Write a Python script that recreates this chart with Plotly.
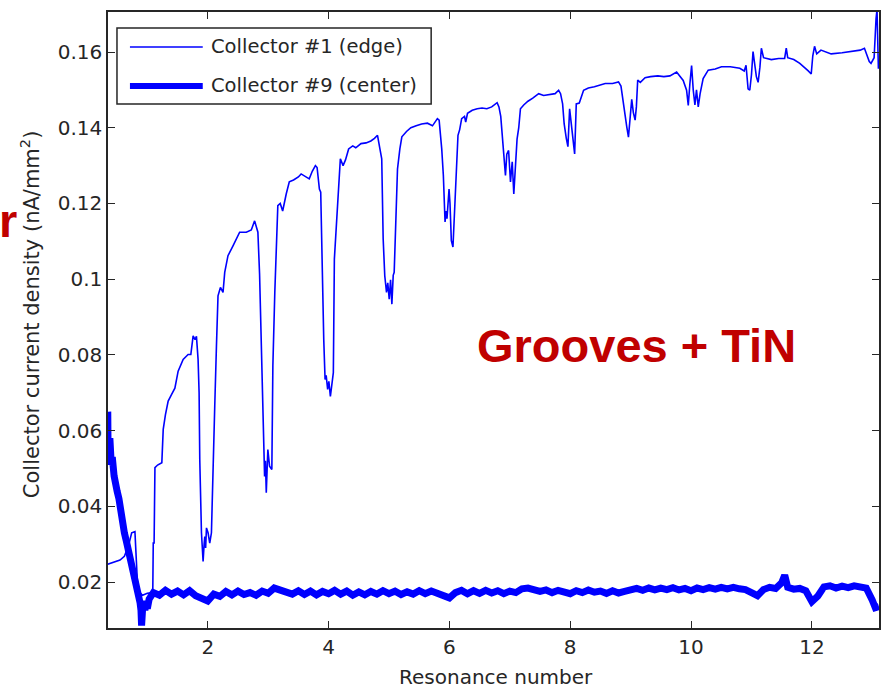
import plotly.graph_objects as go

# Collector #1 (edge): resonance number vs current density (nA/mm^2)
edge_x = [
    0.345, 0.40, 0.46, 0.548, 0.62, 0.685, 0.741, 0.795, 0.812, 0.834, 0.86, 0.92, 1.00, 1.09,
    1.098, 1.112, 1.126, 1.17, 1.24, 1.263, 1.30, 1.345, 1.40, 1.456, 1.510, 1.55, 1.593, 1.675,
    1.72, 1.758, 1.79, 1.813, 1.840, 1.857, 1.868, 1.896, 1.923, 1.94, 1.951, 1.965, 1.979, 2.005,
    2.033, 2.061, 2.088, 2.116, 2.144, 2.170, 2.210, 2.253, 2.281, 2.335, 2.418, 2.473, 2.528,
    2.638, 2.721, 2.776, 2.804, 2.830, 2.858, 2.886, 2.913, 2.941, 2.955, 2.969, 2.995, 3.023,
    3.061, 3.078, 3.11, 3.135, 3.160, 3.20, 3.24, 3.299, 3.35, 3.42, 3.50, 3.546, 3.62, 3.68,
    3.73, 3.782, 3.81, 3.848, 3.87, 3.893, 3.92, 3.942, 3.96, 3.985, 4.005, 4.030, 4.055, 4.079,
    4.096, 4.14, 4.17, 4.195, 4.24, 4.28, 4.332, 4.40, 4.45, 4.536, 4.62, 4.70, 4.76, 4.810,
    4.850, 4.88, 4.904, 4.93, 4.959, 4.98, 5.004, 5.026, 5.048, 5.07, 5.086, 5.11, 5.141, 5.18,
    5.213, 5.29, 5.362, 5.45, 5.54, 5.636, 5.72, 5.801, 5.83, 5.873, 5.90, 5.928, 5.945, 5.96,
    5.994, 6.01, 6.032, 6.059, 6.075, 6.092, 6.115, 6.142, 6.17, 6.203, 6.25, 6.27, 6.30, 6.378,
    6.46, 6.54, 6.62, 6.70, 6.790, 6.82, 6.85, 6.873, 6.90, 6.928, 6.95, 6.98, 7.011, 7.04,
    7.066, 7.09, 7.12, 7.148, 7.176, 7.23, 7.30, 7.38, 7.478, 7.56, 7.65, 7.75, 7.808, 7.84,
    7.874, 7.90, 7.935, 7.962, 7.990, 8.01, 8.04, 8.073, 8.100, 8.15, 8.221, 8.30, 8.40, 8.579,
    8.70, 8.799, 8.84, 8.881, 8.91, 8.936, 8.964, 8.99, 9.018, 9.045, 9.074, 9.095, 9.117, 9.16,
    9.239, 9.33, 9.45, 9.55, 9.65, 9.761, 9.82, 9.87, 9.926, 9.954, 9.98, 10.009, 10.036,
    10.064, 10.09, 10.119, 10.15, 10.20, 10.284, 10.40, 10.504, 10.65, 10.807, 10.88, 10.91,
    10.944, 10.972, 11.00, 11.026, 11.05, 11.081, 11.11, 11.14, 11.164, 11.20, 11.329, 11.45,
    11.549, 11.576, 11.60, 11.70, 11.80, 11.879, 11.94, 11.989, 12.015, 12.044, 12.08, 12.15,
    12.319, 12.50, 12.649, 12.80, 12.870, 12.90, 12.95, 12.979, 13.03, 13.062, 13.078, 13.101,
]
edge_y = [
    0.0247, 0.0250, 0.0254, 0.0258, 0.0268, 0.0294, 0.0330, 0.0333, 0.0277, 0.0205, 0.0175, 0.0165, 0.0170, 0.0172,
    0.0303, 0.0303, 0.0502, 0.0509, 0.0515, 0.0603, 0.0642, 0.0678, 0.0695, 0.0712, 0.0757, 0.0770, 0.0788, 0.0801,
    0.0801, 0.0850, 0.0840, 0.0849, 0.0788, 0.0700, 0.0523, 0.0330, 0.0254, 0.0300, 0.0320, 0.0290, 0.0343, 0.0330,
    0.0303, 0.0330, 0.0466, 0.0665, 0.0823, 0.0956, 0.0978, 0.0965, 0.1018, 0.1062, 0.1088, 0.1106, 0.1124,
    0.1124, 0.1130, 0.1154, 0.1141, 0.1124, 0.1013, 0.0841, 0.0624, 0.0479, 0.0520, 0.0436, 0.0550, 0.0506,
    0.0497, 0.0771, 0.0965, 0.1088, 0.1194, 0.1200, 0.1180, 0.1225, 0.1257, 0.1262, 0.1270, 0.1278, 0.1272, 0.1265,
    0.1285, 0.1300, 0.1295, 0.1238, 0.1230, 0.1009, 0.0841, 0.0735, 0.0746, 0.0709, 0.0730, 0.0690, 0.0720, 0.0753,
    0.1053, 0.1168, 0.1247, 0.1318, 0.1300, 0.1315, 0.1344, 0.1352, 0.1347, 0.1358, 0.1360, 0.1365, 0.1372, 0.1380,
    0.1344, 0.1318, 0.1106, 0.1009, 0.0965, 0.0990, 0.0947, 0.0998, 0.0934, 0.1010, 0.1018, 0.1146, 0.1291, 0.1344,
    0.1376, 0.1390, 0.1400, 0.1405, 0.1410, 0.1412, 0.1405, 0.1424, 0.1420, 0.1344, 0.1274, 0.1151, 0.1180, 0.1160,
    0.1238, 0.1200, 0.1102, 0.1085, 0.1140, 0.1238, 0.1310, 0.1380, 0.1395, 0.1424, 0.1430, 0.1415, 0.1438, 0.1446,
    0.1450, 0.1452, 0.1450, 0.1455, 0.1466, 0.1455, 0.1430, 0.1380, 0.1318, 0.1274, 0.1330, 0.1340, 0.1257, 0.1310,
    0.1225, 0.1300, 0.1370, 0.1400, 0.1450, 0.1460, 0.1470, 0.1478, 0.1490, 0.1485, 0.1488, 0.1490, 0.1499, 0.1490,
    0.1463, 0.1410, 0.1372, 0.1350, 0.1450, 0.1420, 0.1380, 0.1331, 0.1463, 0.1465, 0.1499, 0.1505, 0.1508, 0.1517,
    0.1517, 0.1521, 0.1510, 0.1460, 0.1425, 0.1402, 0.1375, 0.1435, 0.1475, 0.1440, 0.1420, 0.1455, 0.1526, 0.1520,
    0.1532, 0.1535, 0.1537, 0.1535, 0.1537, 0.1547, 0.1535, 0.1525, 0.1499, 0.1459, 0.1515, 0.1564, 0.1500,
    0.1460, 0.1500, 0.1455, 0.1490, 0.1530, 0.1552, 0.1555, 0.1561, 0.1561, 0.1557, 0.1550, 0.1565,
    0.1503, 0.1499, 0.1540, 0.1601, 0.1570, 0.1535, 0.1520, 0.1560, 0.1610, 0.1585, 0.1580, 0.1583,
    0.1583, 0.1610, 0.1585, 0.1580, 0.1570, 0.1560, 0.1550, 0.1542, 0.1590, 0.1615, 0.1595, 0.1605,
    0.1595, 0.1598, 0.1601, 0.1605, 0.1610, 0.1595, 0.1575, 0.1570, 0.1585, 0.1688, 0.1712, 0.1556,
]

# Collector #9 (center)
center_x = [
    0.345, 0.352, 0.36, 0.37, 0.38, 0.40, 0.42, 0.45, 0.47, 0.50, 0.53, 0.56, 0.59, 0.62, 0.65,
    0.68, 0.71, 0.74, 0.77, 0.80, 0.83, 0.86, 0.88, 0.895, 0.905, 0.92, 0.94, 0.96, 0.98, 1.00,
    1.03, 1.06,
    1.1, 1.2, 1.3, 1.4, 1.5, 1.6, 1.7, 1.8, 1.9, 2.0, 2.1, 2.2, 2.3, 2.4, 2.5, 2.6, 2.7, 2.8, 2.9,
    3.0, 3.1, 3.2, 3.3, 3.4, 3.5, 3.6, 3.7, 3.8, 3.9, 4.0, 4.1, 4.2, 4.3, 4.4, 4.5, 4.6, 4.7, 4.8,
    4.9, 5.0, 5.1, 5.2, 5.3, 5.4, 5.5, 5.6, 5.7, 5.8, 5.9, 6.0, 6.1, 6.2, 6.3, 6.4, 6.5, 6.6, 6.7,
    6.8, 6.9, 7.0, 7.1, 7.2, 7.3, 7.4, 7.5, 7.6, 7.7, 7.8, 7.9, 8.0, 8.1, 8.2, 8.3, 8.4, 8.5, 8.6,
    8.7, 8.8, 8.9, 9.0, 9.1, 9.2, 9.3, 9.4, 9.5, 9.6, 9.7, 9.8, 9.9, 10.0, 10.1, 10.2, 10.3, 10.4,
    10.5, 10.6, 10.7, 10.8, 10.9, 11.0, 11.1, 11.2, 11.3, 11.4, 11.5, 11.55, 11.6, 11.7, 11.8,
    11.9, 12.0, 12.1, 12.2, 12.3, 12.4, 12.5, 12.6, 12.7, 12.8, 12.9, 13.0, 13.05, 13.11,
]
center_y = [
    0.0650, 0.0510, 0.0600, 0.0530, 0.0580, 0.0520, 0.0530, 0.0480, 0.0470, 0.0440, 0.0420, 0.0380, 0.0360, 0.0330, 0.0310,
    0.0290, 0.0260, 0.0240, 0.0220, 0.0205, 0.0180, 0.0160, 0.0145, 0.0125, 0.0085, 0.0125, 0.0150, 0.0125, 0.0150, 0.0130,
    0.0155, 0.0165,
    0.0172, 0.0165, 0.0178, 0.0168, 0.0176, 0.0166, 0.0177, 0.0164, 0.0158, 0.0150, 0.0168, 0.0162, 0.0175, 0.0166, 0.0176, 0.0167, 0.0172, 0.0165, 0.0176,
    0.0170, 0.0184, 0.0178, 0.0175, 0.0168, 0.0177, 0.0167, 0.0176, 0.0166, 0.0175, 0.0169, 0.0178, 0.0168, 0.0176, 0.0165, 0.0174, 0.0166, 0.0175, 0.0168,
    0.0177, 0.0169, 0.0176, 0.0167, 0.0174, 0.0168, 0.0177, 0.0169, 0.0176, 0.0170, 0.0168, 0.0158, 0.0172, 0.0178, 0.0169, 0.0177, 0.0170, 0.0178, 0.0171,
    0.0177, 0.0169, 0.0176, 0.0172, 0.0182, 0.0184, 0.0179, 0.0175, 0.0179, 0.0172, 0.0178, 0.0173, 0.0169, 0.0177, 0.0172, 0.0179, 0.0173, 0.0176, 0.0170,
    0.0177, 0.0171, 0.0175, 0.0180, 0.0183, 0.0178, 0.0184, 0.0179, 0.0184, 0.0180, 0.0185, 0.0179, 0.0183, 0.0177, 0.0184, 0.0180, 0.0185, 0.0181,
    0.0186, 0.0182, 0.0186, 0.0182, 0.0180, 0.0172, 0.0164, 0.0180, 0.0186, 0.0183, 0.0198, 0.0218, 0.0186, 0.0181, 0.0183,
    0.0177, 0.0148, 0.0163, 0.0187, 0.0190, 0.0184, 0.0189, 0.0185, 0.0190, 0.0186, 0.0184, 0.0152, 0.0132, 0.0135,
]

x_ticks = [2, 4, 6, 8, 10, 12]
y_ticks = [0.02, 0.04, 0.06, 0.08, 0.1, 0.12, 0.14, 0.16]
y_tick_text = ["0.02", "0.04", "0.06", "0.08", "0.1", "0.12", "0.14", "0.16"]

legend_labels = ["Collector #1 (edge)", "Collector #9 (center)"]

BLUE = "#0000ff"
RED = "#c00000"
INK = "#262626"
FONT = "DejaVu Sans"

W, H = 882, 690
ML, MR, MT, MB = 108, 1, 12, 62
PW, PH = W - ML - MR, H - MT - MB


def px(xp):
    return (xp - ML) / PW


def py(yp):
    return (H - MB - yp) / PH


fig = go.Figure()
fig.add_trace(go.Scatter(x=edge_x, y=edge_y, mode="lines",
                         line=dict(color=BLUE, width=1.6), name=legend_labels[0]))
fig.add_trace(go.Scatter(x=center_x, y=center_y, mode="lines",
                         line=dict(color=BLUE, width=7), name=legend_labels[1]))

axis_common = dict(showline=True, linecolor=INK, linewidth=1.5, mirror="ticks",
                   ticks="inside", ticklen=7, tickwidth=1.3, tickcolor=INK,
                   showgrid=False, zeroline=False,
                   tickfont=dict(family=FONT, size=20, color=INK))

fig.update_xaxes(range=[0.349, 13.111], tickvals=x_ticks, **axis_common)
fig.update_yaxes(range=[0.00785, 0.17057], tickvals=y_ticks, ticktext=y_tick_text, **axis_common)

# legend box drawn in the upper-left corner of the axes
shapes = [dict(type="rect", xref="paper", yref="paper",
               x0=px(117), x1=px(432), y0=py(104), y1=py(28),
               line=dict(color=INK, width=1.5), fillcolor="white", layer="above")]
annotations = []
for row_y, width, label in [(47, 1.3, legend_labels[0]), (86, 6, legend_labels[1])]:
    shapes.append(dict(type="line", xref="paper", yref="paper",
                       x0=px(130), x1=px(203), y0=py(row_y), y1=py(row_y),
                       line=dict(color=BLUE, width=width), layer="above"))
    annotations.append(dict(text=label, xref="paper", yref="paper", x=px(209), y=py(row_y),
                            xanchor="left", yanchor="middle", showarrow=False,
                            font=dict(family=FONT, size=19.5, color=INK)))

annotations += [
    dict(text="Resonance number", xref="paper", yref="paper", x=px(497), y=py(677),
         xanchor="center", yanchor="middle", showarrow=False,
         font=dict(family=FONT, size=20, color=INK)),
    dict(text="Collector current density (nA/mm<sup>2</sup>)", xref="paper", yref="paper",
         x=px(30), y=py(314), xanchor="center", yanchor="middle", textangle=-90,
         showarrow=False, font=dict(family=FONT, size=21, color=INK)),
    dict(text="<b>Grooves + TiN</b>", xref="paper", yref="paper", x=px(638), y=py(345),
         xanchor="center", yanchor="middle", showarrow=False,
         font=dict(family="Liberation Sans", size=47, color=RED)),
    dict(text="<b>r</b>", xref="paper", yref="paper", x=px(19), y=py(220),
         xanchor="right", yanchor="middle", showarrow=False,
         font=dict(family="Liberation Sans", size=47, color=RED)),
]

fig.update_layout(width=W, height=H, margin=dict(l=ML, r=MR, t=MT, b=MB),
                  paper_bgcolor="white", plot_bgcolor="white", showlegend=False,
                  shapes=shapes, annotations=annotations)

fig.write_html("out.html")
